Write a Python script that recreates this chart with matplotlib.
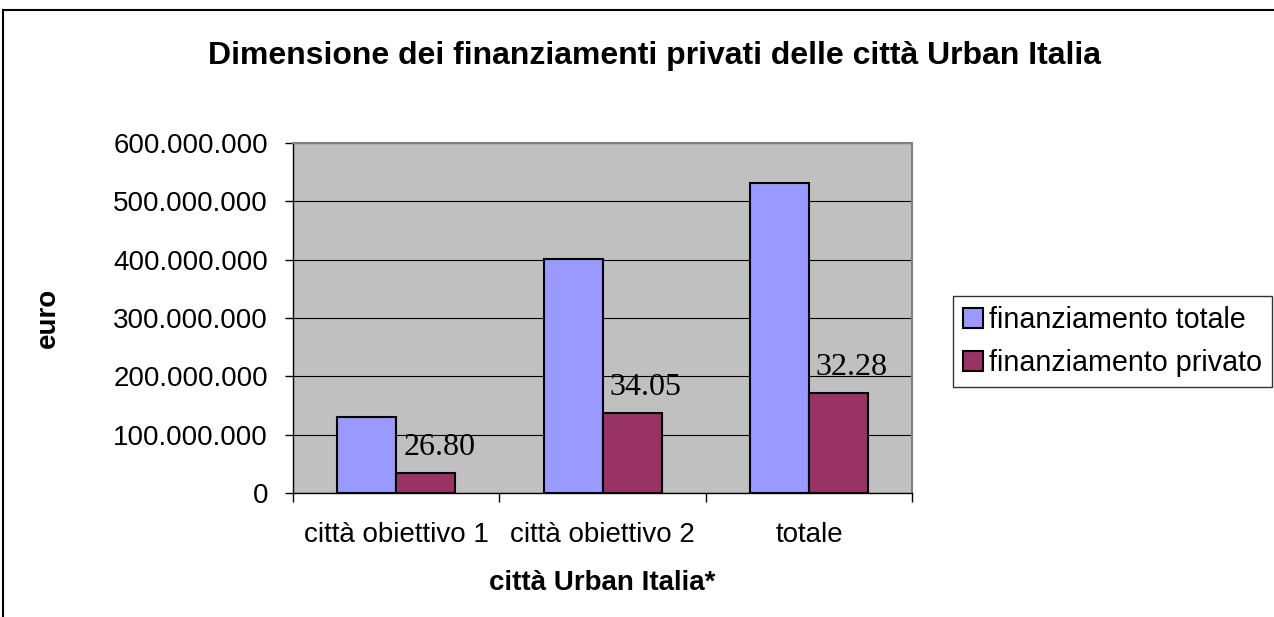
import matplotlib.pyplot as plt
import numpy as np
from matplotlib.lines import Line2D
from matplotlib.ticker import FuncFormatter

plt.rcParams['font.family'] = ['Liberation Sans', 'DejaVu Sans']

# dati
categorie = ['città obiettivo 1', 'città obiettivo 2', 'totale']
fin_totale = [130000000, 402000000, 532000000]
fin_privato = [34840000, 136880000, 171720000]
percentuali = ['26.80', '34.05', '32.28']

col_totale = '#9999FF'
col_privato = '#993366'

fig = plt.figure(figsize=(12.74, 6.17), dpi=100)
ax = fig.add_axes([0.230, 0.201, 0.486, 0.567])
ax.set_facecolor('#C0C0C0')

x = np.arange(len(categorie))
w = 0.2857
ax.bar(x - w / 2, fin_totale, w, color=col_totale, edgecolor='black',
       linewidth=1.5, label='finanziamento totale', zorder=3)
ax.bar(x + w / 2, fin_privato, w, color=col_privato, edgecolor='black',
       linewidth=1.5, label='finanziamento privato', zorder=3)

# etichette percentuali sopra le barre del privato
for xi, yi, txt in zip(x, fin_privato, percentuali):
    ax.annotate(txt, (xi, yi), textcoords='offset points',
                xytext=(5, 8), ha='left', va='bottom', fontsize=23,
                family='Liberation Serif', zorder=4)

ax.set_ylim(0, 600000000)
ax.set_xlim(-0.5, 2.5)
ax.set_yticks(np.arange(0, 600000001, 100000000))
ax.yaxis.set_major_formatter(FuncFormatter(lambda v, p: f'{int(v):,}'.replace(',', '.')))
ax.grid(axis='y', color='black', linewidth=0.8, zorder=1)

# asse categorie: tacche ai bordi, etichette al centro
ax.set_xticks([-0.5, 0.5, 1.5, 2.5])
ax.set_xticklabels([])
ax.set_xticks(x, minor=True)
ax.set_xticklabels(categorie, minor=True)
ax.tick_params(axis='x', which='major', direction='out', length=6.5, width=1)
ax.tick_params(axis='x', which='minor', length=0, pad=21, labelsize=20)
ax.tick_params(axis='y', direction='out', length=6, width=1, pad=12, labelsize=20)

for s in ['top', 'right']:
    ax.spines[s].set_color('#808080')
    ax.spines[s].set_linewidth(1.5)
for s in ['left', 'bottom']:
    ax.spines[s].set_color('black')
    ax.spines[s].set_linewidth(1)

ax.set_xlabel('città Urban Italia*', fontsize=20, fontweight='bold', labelpad=16)
ax.set_ylabel('euro', fontsize=20, fontweight='bold', labelpad=38)

fig.text(0.514, 0.91, 'Dimensione dei finanziamenti privati delle città Urban Italia',
         fontsize=23, fontweight='bold', ha='center', va='center')

leg = ax.legend(loc='center left', bbox_to_anchor=(1.066, 0.433), fontsize=20.7,
                frameon=True, fancybox=False, edgecolor='black',
                handlelength=0.7, handleheight=0.7, handletextpad=0.2,
                borderpad=0.35, labelspacing=0.5, borderaxespad=0)
leg.get_frame().set_linewidth(1)

# cornice del grafico
fig.add_artist(Line2D([0.0025, 1.0], [0.984, 0.984], color='black', linewidth=1.5))
fig.add_artist(Line2D([0.0025, 0.0025], [0.0, 0.984], color='black', linewidth=1.5))

fig.savefig('out.png', dpi=100)
